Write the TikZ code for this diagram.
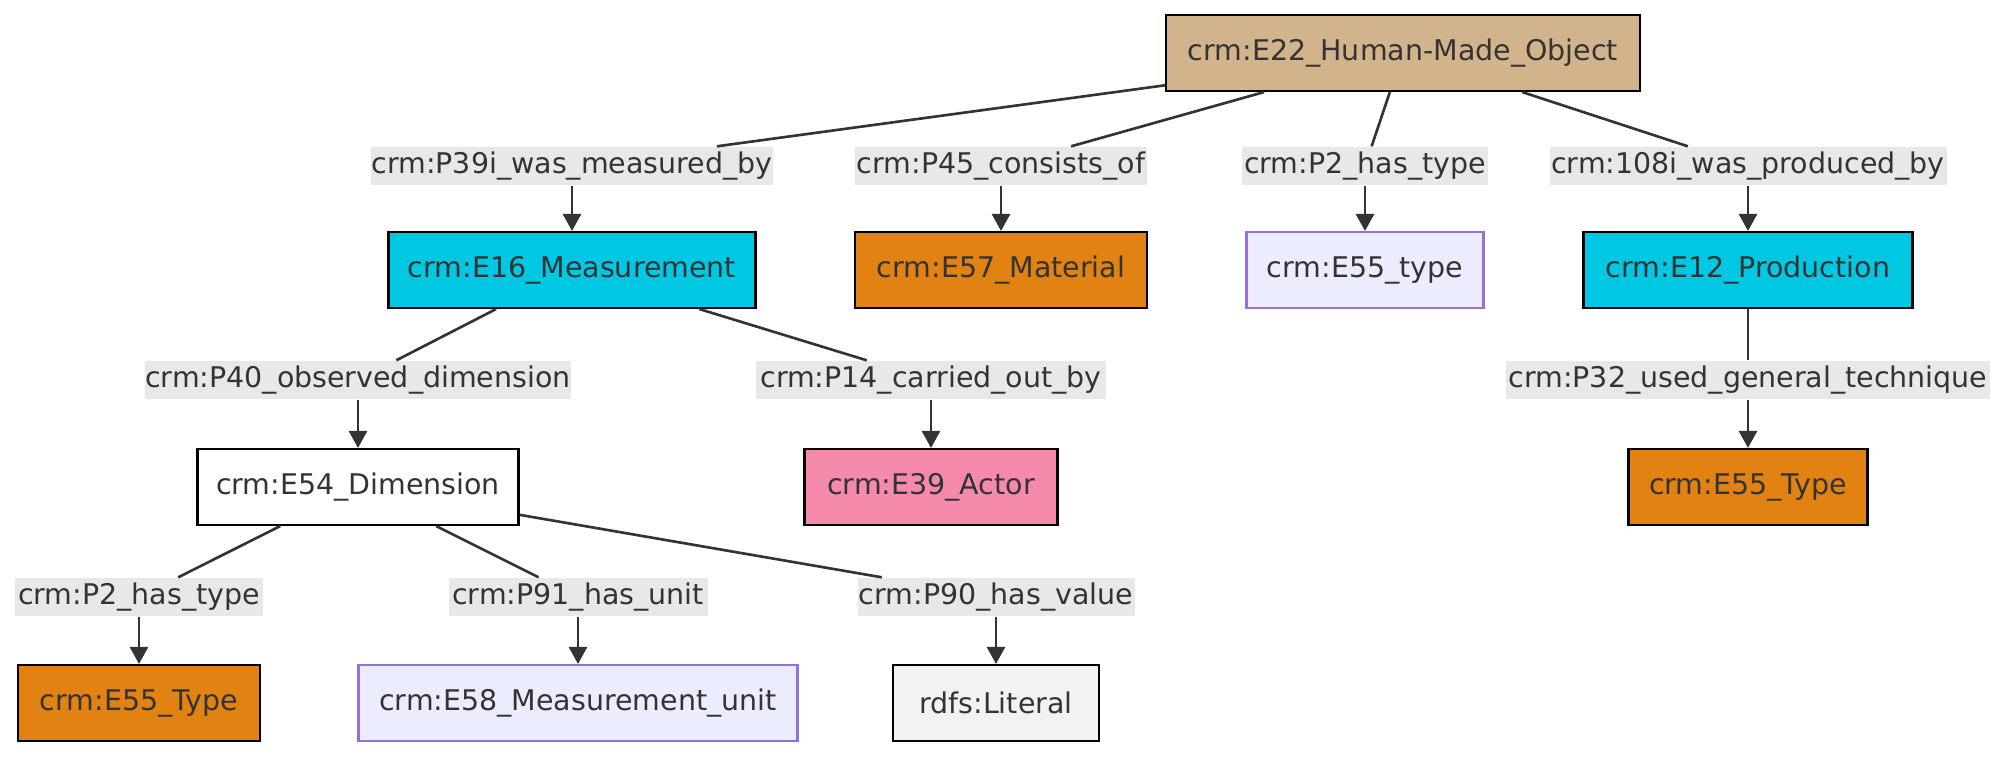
\documentclass[tikz,border=0pt]{standalone}
\usepackage{fontspec}
\setmainfont{DejaVu Sans}
\usepackage{tikz}
\usetikzlibrary{arrows.meta}
\definecolor{ink}{HTML}{333333}
\definecolor{tanfill}{HTML}{D2B48C}
\definecolor{cyanfill}{HTML}{00C8E3}
\definecolor{orangefill}{HTML}{E18213}
\definecolor{pinkfill}{HTML}{F58AAB}
\definecolor{lavfill}{HTML}{ECECFF}
\definecolor{lavline}{HTML}{9370DB}
\definecolor{litfill}{HTML}{F2F2F2}
\definecolor{lblfill}{HTML}{E8E8E8}
\tikzset{
    ent/.style={shape=rectangle, draw=black, line width=0.6pt, minimum height=0.76cm, inner sep=0pt, text=ink, font=\fontsize{8.1}{9}\selectfont},
    tanbox/.style={ent, fill=tanfill},
    cyanbox/.style={ent, fill=cyanfill},
    orangebox/.style={ent, fill=orangefill},
    pinkbox/.style={ent, fill=pinkfill},
    lavbox/.style={ent, fill=lavfill, draw=lavline},
    plainbox/.style={ent, fill=white},
    litbox/.style={ent, fill=litfill},
    prop/.style={shape=rectangle, fill=lblfill, inner sep=0pt, minimum height=0.38cm, text=ink, font=\fontsize{8.1}{9}\selectfont},
    wire/.style={draw=ink, line width=0.75pt},
    arr/.style={wire, -{Triangle[length=0.17cm, width=0.18cm]}}
}
\begin{document}
\begin{tikzpicture}
    	\useasboundingbox (0,0) rectangle (20.08,-7.58);
    	% Nodes:
    	\node[tanbox, minimum width=4.74cm](E22) at (14.03, -0.53){crm:E22\_Human-Made\_Object};
    	\node[cyanbox, minimum width=3.67cm](E16) at (5.72, -2.70){crm:E16\_Measurement};
    	\node[orangebox, minimum width=2.92cm](E57) at (10.01, -2.70){crm:E57\_Material};
    	\node[lavbox, minimum width=2.37cm](E55a) at (13.65, -2.70){crm:E55\_type};
    	\node[cyanbox, minimum width=3.29cm](E12) at (17.48, -2.70){crm:E12\_Production};
    	\node[plainbox, minimum width=3.21cm](E54) at (3.58, -4.87){crm:E54\_Dimension};
    	\node[pinkbox, minimum width=2.53cm](E39) at (9.31, -4.87){crm:E39\_Actor};
    	\node[orangebox, minimum width=2.39cm](E55b) at (17.48, -4.87){crm:E55\_Type};
    	\node[orangebox, minimum width=2.42cm](E55c) at (1.39, -7.03){crm:E55\_Type};
    	\node[lavbox, minimum width=4.39cm](E58) at (5.78, -7.03){crm:E58\_Measurement\_unit};
    	\node[litbox, minimum width=2.06cm](Lit) at (9.96, -7.03){rdfs:Literal};
    	% Edge labels:
    	\node[prop, minimum width=4.02cm](P39i) at (5.72, -1.66){crm:P39i\_was\_measured\_by};
    	\node[prop, minimum width=2.92cm](P45) at (10.01, -1.66){crm:P45\_consists\_of};
    	\node[prop, minimum width=2.46cm](P2a) at (13.65, -1.66){crm:P2\_has\_type};
    	\node[prop, minimum width=3.97cm](P108i) at (17.48, -1.66){crm:108i\_was\_produced\_by};
    	\node[prop, minimum width=4.25cm](P40) at (3.58, -3.80){crm:P40\_observed\_dimension};
    	\node[prop, minimum width=3.50cm](P14) at (9.31, -3.80){crm:P14\_carried\_out\_by};
    	\node[prop, minimum width=4.84cm](P32) at (17.48, -3.80){crm:P32\_used\_general\_technique};
    	\node[prop, minimum width=2.48cm](P2b) at (1.39, -5.97){crm:P2\_has\_type};
    	\node[prop, minimum width=2.59cm](P91) at (5.78, -5.97){crm:P91\_has\_unit};
    	\node[prop, minimum width=2.77cm](P90) at (9.96, -5.97){crm:P90\_has\_value};
    	% Wires:
    	\draw[wire] (E22) -- (P39i);
    	\draw[arr] (P39i) -- (E16);
    	\draw[wire] (E22) -- (P45);
    	\draw[arr] (P45) -- (E57);
    	\draw[wire] (E22) -- (P2a);
    	\draw[arr] (P2a) -- (E55a);
    	\draw[wire] (E22) -- (P108i);
    	\draw[arr] (P108i) -- (E12);
    	\draw[wire] (E16) -- (P40);
    	\draw[arr] (P40) -- (E54);
    	\draw[wire] (E16) -- (P14);
    	\draw[arr] (P14) -- (E39);
    	\draw[wire] (E12) -- (P32);
    	\draw[arr] (P32) -- (E55b);
    	\draw[wire] (E54) -- (P2b);
    	\draw[arr] (P2b) -- (E55c);
    	\draw[wire] (E54) -- (P91);
    	\draw[arr] (P91) -- (E58);
    	\draw[wire] (E54) -- (P90);
    	\draw[arr] (P90) -- (Lit);
    \end{tikzpicture}
\end{document}
